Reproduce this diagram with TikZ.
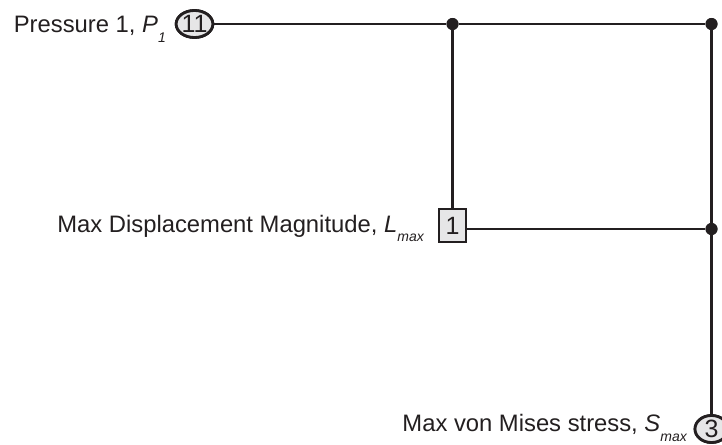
\documentclass[tikz,border=0pt]{standalone}
\usepackage{fontspec}
\setmainfont{Liberation Sans}
\usetikzlibrary{shapes.geometric}
\definecolor{ink}{HTML}{231F20}
\definecolor{fillgray}{HTML}{E6E6E7}
\newcommand{\sub}[1]{\raisebox{-0.42em}{\fontsize{14}{14}\selectfont\itshape #1}}
\begin{document}
\begin{tikzpicture}[x=1pt,y=-1pt,
  wire/.style={draw=ink,line width=2.6pt},
  ovalnode/.style={ellipse,draw=ink,line width=2.8pt,fill=fillgray,minimum width=33pt,minimum height=27pt,inner sep=0pt,font=\fontsize{25}{25}\selectfont,text=ink},
  boxnode/.style={rectangle,draw=ink,line width=2.8pt,fill=fillgray,minimum width=27pt,minimum height=33pt,inner sep=0pt,font=\fontsize{25}{25}\selectfont,text=ink},
  junction/.style={circle,fill=ink,inner sep=0pt,minimum size=12pt},
  lbl/.style={anchor=base east,inner sep=0pt,font=\fontsize{23.8}{24}\selectfont,text=ink}]
\useasboundingbox (0,0) rectangle (722,444);
% nodes
\node[ovalnode] (p1) at (194.5,24) {11};
\node[boxnode] (l1) at (452.5,225.5) {1};
\node[ovalnode] (s3) at (711.5,429) {3};
\node[junction] (j1) at (452.5,24) {};
\node[junction] (j2) at (711.5,24) {};
\node[junction] (j3) at (711.5,229) {};
% labels
\node[lbl] (tp) at (166,33) {Pressure 1, \textit{P}\sub{1}};
\node[lbl] (tl) at (424,232) {Max Displacement Magnitude, \textit{L}\sub{max}};
\node[lbl] (ts) at (687,431) {Max von Mises stress, \textit{S}\sub{max}};
% connectors
\draw[wire] (p1) -- (j1);
\draw[wire] (j1) -- (j2);
\draw[wire] (j1) -- (l1);
\draw[wire] (l1.east |- j3) -- (j3);
\draw[wire] (j2) -- (j3);
\draw[wire] (j3) -- (s3);
% redraw nodes on top of the wires
\node[ovalnode] at (p1) {11};
\node[boxnode] at (l1) {1};
\node[ovalnode] at (s3) {3};
\node[junction] at (j1) {};
\node[junction] at (j2) {};
\node[junction] at (j3) {};
\end{tikzpicture}
\end{document}
